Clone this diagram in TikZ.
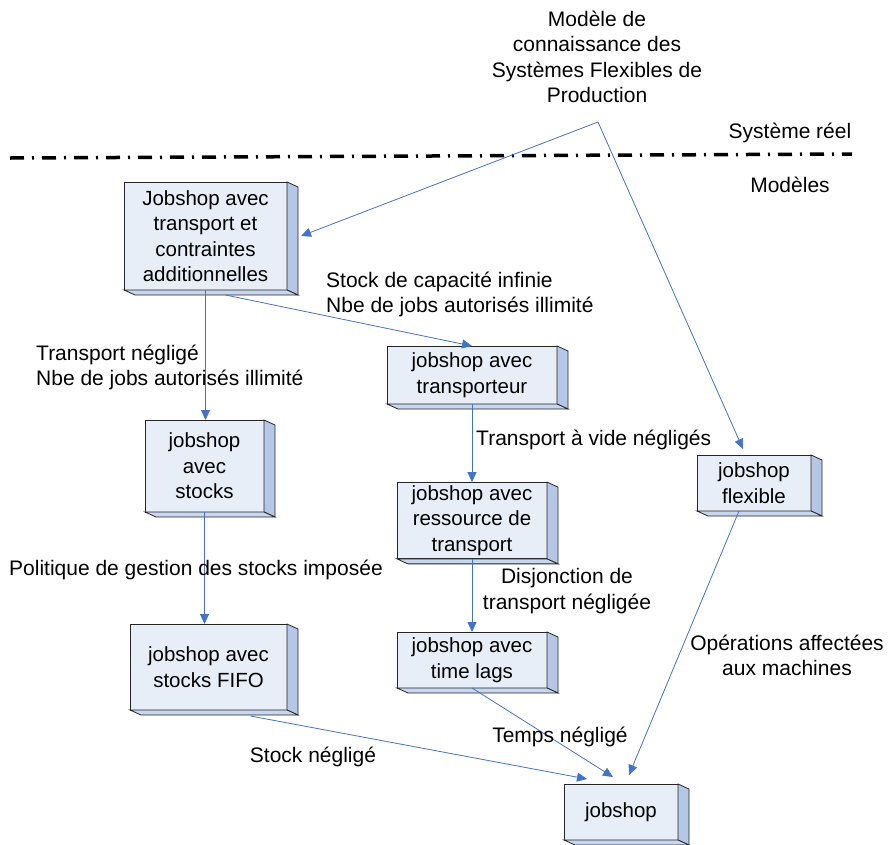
\documentclass[tikz,border=0pt]{standalone}
\usepackage{fontspec}
\setmainfont{Liberation Sans}
\usetikzlibrary{arrows.meta}
\definecolor{face}{RGB}{232,238,248}
\definecolor{cote}{RGB}{180,199,231}
\definecolor{dessous}{RGB}{200,214,238}
\definecolor{fleche}{RGB}{68,114,196}
\tikzset{
  boite/.style={draw=black!85, line width=0.8pt, fill=face, outer sep=0pt,
    align=center, font=\fontsize{20.5}{25.5}\selectfont},
  legende/.style={inner sep=0pt, font=\fontsize{21}{25.5}\selectfont},
  lien/.style={draw=fleche, line width=0.8pt, -{Triangle[length=10pt,width=9pt]}}
}
% side and bottom faces of a box
\newcommand{\relief}[1]{%
  \filldraw[fill=cote, draw=black!85, line width=0.8pt] (#1.north east) -- ([shift={(11,5)}]#1.north east)
    -- ([shift={(11,5)}]#1.south east) -- (#1.south east) -- cycle;%
  \filldraw[fill=dessous, draw=black!85, line width=0.8pt] (#1.south west) -- ([shift={(11,5)}]#1.south west)
    -- ([shift={(11,5)}]#1.south east) -- (#1.south east) -- cycle;%
}
\begin{document}
\begin{tikzpicture}[x=1pt, y=-1pt]
\useasboundingbox (0,0) rectangle (889,844);

% Separation line
\draw [line width=3.5pt, dash pattern=on 14pt off 8pt on 2pt off 8pt] (10,158) -- (852,154);

% Knowledge model
\node [legende, align=center] (modele) at (597,57) {Modèle de\\connaissance des\\Systèmes Flexibles de\\Production};
\coordinate (sommet) at (598,122);
\node [legende] (reel) at (790,133) {Système réel};
\node [legende] (modeles) at (790,185) {Modèles};

% Boxes
\node [boite, minimum width=163pt, minimum height=108pt] (complet) at (205.5,236) {Jobshop avec\\transport et\\contraintes\\additionnelles};
\relief{complet}
\node [boite, minimum width=170pt, minimum height=58pt] (transporteur) at (472,375) {jobshop avec\\transporteur};
\relief{transporteur}
\node [boite, minimum width=119pt, minimum height=92pt] (stocks) at (204.5,466) {jobshop\\avec\\stocks};
\relief{stocks}
\node [boite, minimum width=150pt, minimum height=75pt] (ressource) at (472,520.5) {jobshop avec\\ressource de\\transport};
\relief{ressource}
\node [boite, minimum width=150pt, minimum height=56pt] (timelags) at (472,660) {jobshop avec\\time lags};
\relief{timelags}
\node [boite, minimum width=114pt, minimum height=56pt] (flexible) at (754,483) {jobshop\\flexible};
\relief{flexible}
\node [boite, minimum width=157pt, minimum height=86pt] (fifo) at (208.5,667) {jobshop avec\\stocks FIFO};
\relief{fifo}
\node [boite, minimum width=114pt, minimum height=56pt] (jobshop) at (621,812) {jobshop};
\relief{jobshop}

% Connectors
\draw [lien] (sommet) -- ([xshift=14]complet.east);
\draw [lien] (sommet) -- ([shift={(-11,-6)}]flexible.north);
\draw [lien] (complet.south) -- (complet.south |- stocks.north);
\draw [lien] ([shift={(20,5)}]complet.south) -- (transporteur.north);
\draw [lien] (transporteur.south) -- (ressource.north);
\draw [lien] (ressource.south) -- (timelags.north);
\draw [lien] (stocks.south) -- (stocks.south |- fifo.north);
\draw [lien] ([shift={(42,6)}]fifo.south) -- ([shift={(-34,-5)}]jobshop.north);
\draw [lien] (timelags.south) -- ([shift={(-8,-7)}]jobshop.north);
\draw [lien] ([xshift=-15]flexible.south) -- ([shift={(8,-9)}]jobshop.north);

% Labels
\node [legende, anchor=west, align=left] (capacite) at (326,294.5) {Stock de capacité infinie\\Nbe de jobs autorisés illimité};
\node [legende, anchor=west, align=left] (transport) at (36,367.5) {Transport négligé\\Nbe de jobs autorisés illimité};
\node [legende, anchor=west] (vide) at (476,440) {Transport à vide négligés};
\node [legende, anchor=west] (politique) at (9,570) {Politique de gestion des stocks imposée};
\node [legende, align=center] (disjonction) at (567,591) {Disjonction de\\transport négligée};
\node [legende, align=center] (operations) at (787,655.5) {Opérations affectées\\aux machines};
\node [legende] (temps) at (560,737) {Temps négligé};
\node [legende] (stock) at (313,757) {Stock négligé};
\end{tikzpicture}
\end{document}
